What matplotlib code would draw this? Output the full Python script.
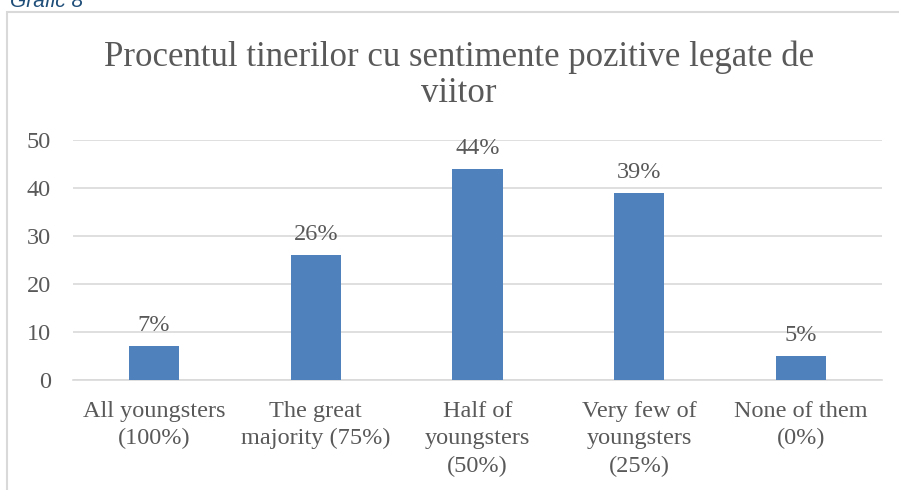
import matplotlib.pyplot as plt
from matplotlib.patches import Rectangle

# Date
categorii = ["All youngsters\n(100%)", "The great\nmajority (75%)", "Half of\nyoungsters\n(50%)",
             "Very few of\nyoungsters\n(25%)", "None of them\n(0%)"]
valori = [7, 26, 44, 39, 5]
etichete = ["7%", "26%", "44%", "39%", "5%"]
titlu = "Procentul tinerilor cu sentimente pozitive legate de\nviitor"

text_col = '#595959'
plt.rcParams['font.family'] = ['Liberation Serif', 'DejaVu Serif']

fig = plt.figure(figsize=(8.99, 4.9), dpi=100)
fig.patch.set_facecolor('white')

# chenarul graficului
fig.patches.append(Rectangle((7 / 899, -0.1), 1.0, (490 - 12) / 490 + 0.1,
                             transform=fig.transFigure, fill=False,
                             edgecolor='#d9d9d9', linewidth=1.5))
fig.text(10 / 899, 1 - 7 / 490, "Grafic 8", color='#1f4e79', style='italic',
         family='Liberation Sans', fontsize=15, va='baseline', ha='left')

ax = fig.add_axes([73 / 899, 1 - 380 / 490, (882 - 73) / 899, 240 / 490])
x = range(len(valori))
ax.bar(x, valori, width=0.31, color='#4f81bd', zorder=3)
for i, v in enumerate(valori):
    ax.annotate(etichete[i], (i, v), xytext=(0, 11), textcoords='offset points',
                ha='center', va='baseline', fontsize=17.5, color=text_col)

ax.set_xlim(-0.5, 4.5)
ax.set_ylim(0, 50)
ax.set_yticks([0, 10, 20, 30, 40, 50])
ax.yaxis.grid(True, color='#d9d9d9', linewidth=1.2, zorder=0)
ax.set_xticks(list(x))
ax.set_xticklabels(categorii, fontsize=17.5, color=text_col, linespacing=1.4)
ax.tick_params(axis='y', labelsize=17.5, labelcolor=text_col, length=0, pad=16)
ax.tick_params(axis='x', length=0, pad=15)
for s in ['top', 'right', 'left']:
    ax.spines[s].set_visible(False)
ax.spines['bottom'].set_color('#d9d9d9')
ax.spines['bottom'].set_linewidth(1.2)

fig.text(459 / 899, 1 - 75 / 490, titlu, ha='center', va='center', fontsize=25,
         color=text_col, linespacing=1.1)

fig.savefig('out.png', dpi=100)
